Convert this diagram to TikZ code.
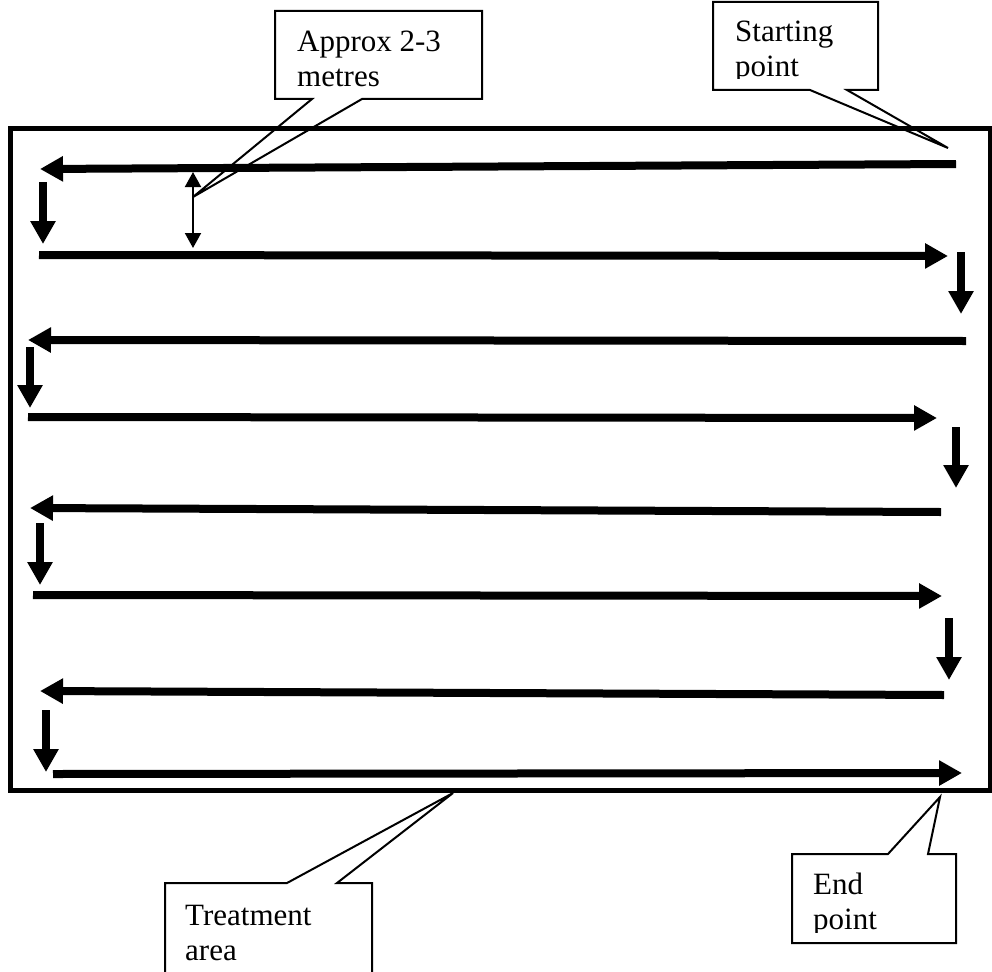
\documentclass[tikz,border=0pt]{standalone}
\usepackage{fontspec}
\setmainfont{Liberation Serif}
\usetikzlibrary{arrows.meta}

\tikzset{
  pase/.style={line width=8pt, -{Triangle[length=23pt,width=24pt]}},
  medida/.style={line width=2pt, {Triangle[length=15pt,width=16pt]}-{Triangle[length=15pt,width=16pt]}},
  bocadillo/.style={line width=2pt, line join=miter},
  texto/.style={anchor=base west, inner sep=0pt, align=left, font=\fontsize{31}{35}\selectfont},
}

\begin{document}
\begin{tikzpicture}[x=1pt,y=-1pt]
    \useasboundingbox (0,0) rectangle (992,971);
    \clip (0,0) rectangle (992,971);

    % Zona de tratamiento
    \draw[line width=5pt] (10,128) rectangle (990,790);

    % Pasadas
    \draw[pase] (956,164) -- (40,169);
    \draw[pase] (43,182) -- (43,244);
    \draw[pase] (39,255) -- (948,256);
    \draw[pase] (961,252) -- (961,314);
    \draw[pase] (966,341) -- (28,340);
    \draw[pase] (30,347) -- (30,408);
    \draw[pase] (28,417) -- (937,418);
    \draw[pase] (956,427) -- (956,488);
    \draw[pase] (941,512) -- (30,508);
    \draw[pase] (40,523) -- (40,585);
    \draw[pase] (33,595) -- (942,596);
    \draw[pase] (949,618) -- (949,680);
    \draw[pase] (944,695) -- (40,691);
    \draw[pase] (46,710) -- (46,772);
    \draw[pase] (53,774) -- (962,773);

    % Separacion
    \draw[medida] (193,172) -- (193,248);

    % Bocadillos (la linea base del nodo es la ultima linea)
    \draw[bocadillo] (275,11) -- (482,11) -- (482,99) -- (362,99) -- (193,197)
        -- (312,99) -- (275,99) -- cycle;
    \node[texto] (approx) at (297,87) {Approx 2-3\\metres};

    \draw[bocadillo] (713,2) -- (878,2) -- (878,90) -- (847,90) -- (948,148)
        -- (810,90) -- (713,90) -- cycle;
    \begin{scope}
        \clip (713,2) rectangle (878,79);
        \node[texto] (start) at (735,77) {Starting\\point};
    \end{scope}

    \draw[bocadillo] (165,990) -- (165,883) -- (287,883) -- (453,793)
        -- (337,883) -- (372,883) -- (372,990);
    \node[texto] (area) at (185,960) {Treatment\\area};

    \draw[bocadillo] (792,854) -- (888,854) -- (940,797) -- (928,854)
        -- (956,854) -- (956,943) -- (792,943) -- cycle;
    \begin{scope}
        \clip (792,854) rectangle (956,932);
        \node[texto] (endpt) at (813,929) {End\\point};
    \end{scope}

\end{tikzpicture}
\end{document}
